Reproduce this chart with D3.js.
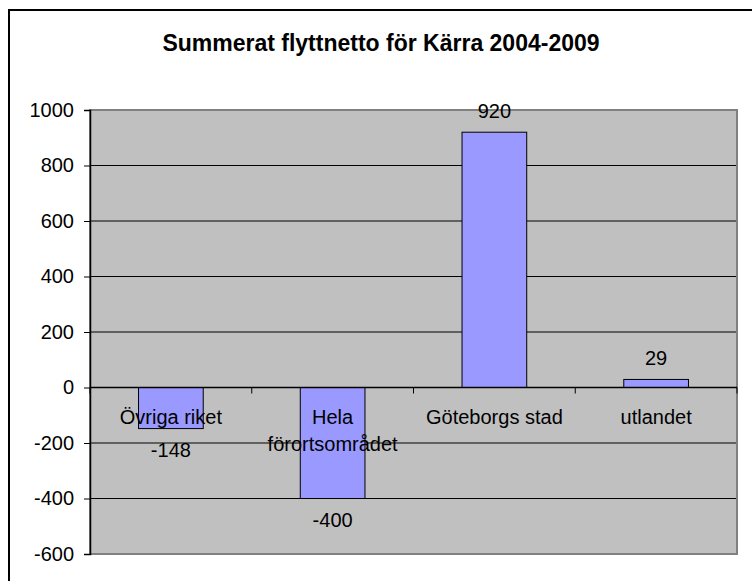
<!DOCTYPE html>
<html>
<head>
<meta charset="UTF-8">
<title>Summerat flyttnetto</title>
<script src="https://d3js.org/d3.v7.min.js"></script>
<style>
  body { margin: 0; background: #fff; }
  svg { display: block; font-family: "Liberation Sans", Arial, sans-serif; }
</style>
</head>
<body>
<div id="chart"></div>
<script>
// data
var categories = ["Övriga riket", "Hela förortsområdet", "Göteborgs stad", "utlandet"];
var labelLines = [["Övriga riket"], ["Hela", "förortsområdet"], ["Göteborgs stad"], ["utlandet"]];
var values = [-148, -400, 920, 29];
var yTicks = [-600, -400, -200, 0, 200, 400, 600, 800, 1000];

var W = 752, H = 581;
var plot = {left: 90, right: 737, top: 110, bottom: 554};
var fs = 20;

var svg = d3.select("#chart").append("svg")
    .attr("width", W)
    .attr("height", H);

// outer chart frame (runs off the picture at right/bottom)
svg.append("rect")
    .attr("x", 9).attr("y", 10)
    .attr("width", 760).attr("height", 600)
    .attr("fill", "#fff")
    .attr("stroke", "#000")
    .attr("stroke-width", 2);

svg.append("text")
    .attr("x", 381)
    .attr("y", 51)
    .attr("text-anchor", "middle")
    .attr("font-size", 23)
    .attr("font-weight", "bold")
    .text("Summerat flyttnetto för Kärra 2004-2009");

var x = d3.scaleBand()
    .domain(categories)
    .range([plot.left, plot.right])
    .paddingInner(0.6)
    .paddingOuter(0.3);

var y = d3.scaleLinear()
    .domain([-600, 1000])
    .range([plot.bottom, plot.top]);

// plot background
svg.append("rect")
    .attr("x", plot.left).attr("y", plot.top)
    .attr("width", plot.right - plot.left)
    .attr("height", plot.bottom - plot.top)
    .attr("fill", "#c0c0c0");

// gridlines
svg.append("g")
    .selectAll("line")
    .data(yTicks.filter(function(d) { return d > -600 && d < 1000; }))
    .enter().append("line")
    .attr("x1", plot.left).attr("x2", plot.right)
    .attr("y1", function(d) { return y(d); })
    .attr("y2", function(d) { return y(d); })
    .attr("stroke", "#000")
    .attr("stroke-width", 1);

// plot border (grey)
svg.append("rect")
    .attr("x", plot.left).attr("y", plot.top)
    .attr("width", plot.right - plot.left)
    .attr("height", plot.bottom - plot.top)
    .attr("fill", "none")
    .attr("stroke", "#808080")
    .attr("stroke-width", 2);

// bars
svg.append("g")
    .selectAll("rect")
    .data(values)
    .enter().append("rect")
    .attr("x", function(d, i) { return x(categories[i]); })
    .attr("width", x.bandwidth())
    .attr("y", function(d) { return y(Math.max(0, d)); })
    .attr("height", function(d) { return Math.abs(y(d) - y(0)); })
    .attr("fill", "#9999ff")
    .attr("stroke", "#000")
    .attr("stroke-width", 1);

// y axis
var yAxis = svg.append("g")
    .attr("transform", "translate(" + plot.left + ",0)")
    .call(d3.axisLeft(y).tickValues(yTicks).tickSize(6).tickPadding(10)
        .tickFormat(function(d) { return String(d); }));
yAxis.select(".domain").attr("stroke", "#000").attr("stroke-width", 1.5);
yAxis.selectAll("text").attr("font-size", fs).attr("fill", "#000")
    .attr("font-family", "'Liberation Sans', Arial, sans-serif");

// x axis on the zero line, ticks between categories
var step = x.step();
var boundaries = d3.range(categories.length + 1).map(function(i) { return plot.left + i * step; });
svg.append("line")
    .attr("x1", plot.left).attr("x2", plot.right)
    .attr("y1", y(0)).attr("y2", y(0))
    .attr("stroke", "#000").attr("stroke-width", 1.5);
svg.append("g")
    .selectAll("line")
    .data(boundaries)
    .enter().append("line")
    .attr("x1", function(d) { return d; }).attr("x2", function(d) { return d; })
    .attr("y1", y(0)).attr("y2", y(0) + 6)
    .attr("stroke", "#000");

// category labels
var catG = svg.append("g").attr("font-size", fs).attr("text-anchor", "middle");
labelLines.forEach(function(lines, i) {
    var cx = x(categories[i]) + x.bandwidth() / 2;
    lines.forEach(function(t, j) {
        catG.append("text")
            .attr("x", cx)
            .attr("y", y(0) + 36 + j * 27)
            .text(t);
    });
});

// value labels
svg.append("g")
    .attr("font-size", fs)
    .attr("text-anchor", "middle")
    .selectAll("text")
    .data(values)
    .enter().append("text")
    .attr("x", function(d, i) { return x(categories[i]) + x.bandwidth() / 2; })
    .attr("y", function(d) { return d >= 0 ? y(d) - 14 : y(d) + 28; })
    .text(function(d) { return d; });
</script>
</body>
</html>
